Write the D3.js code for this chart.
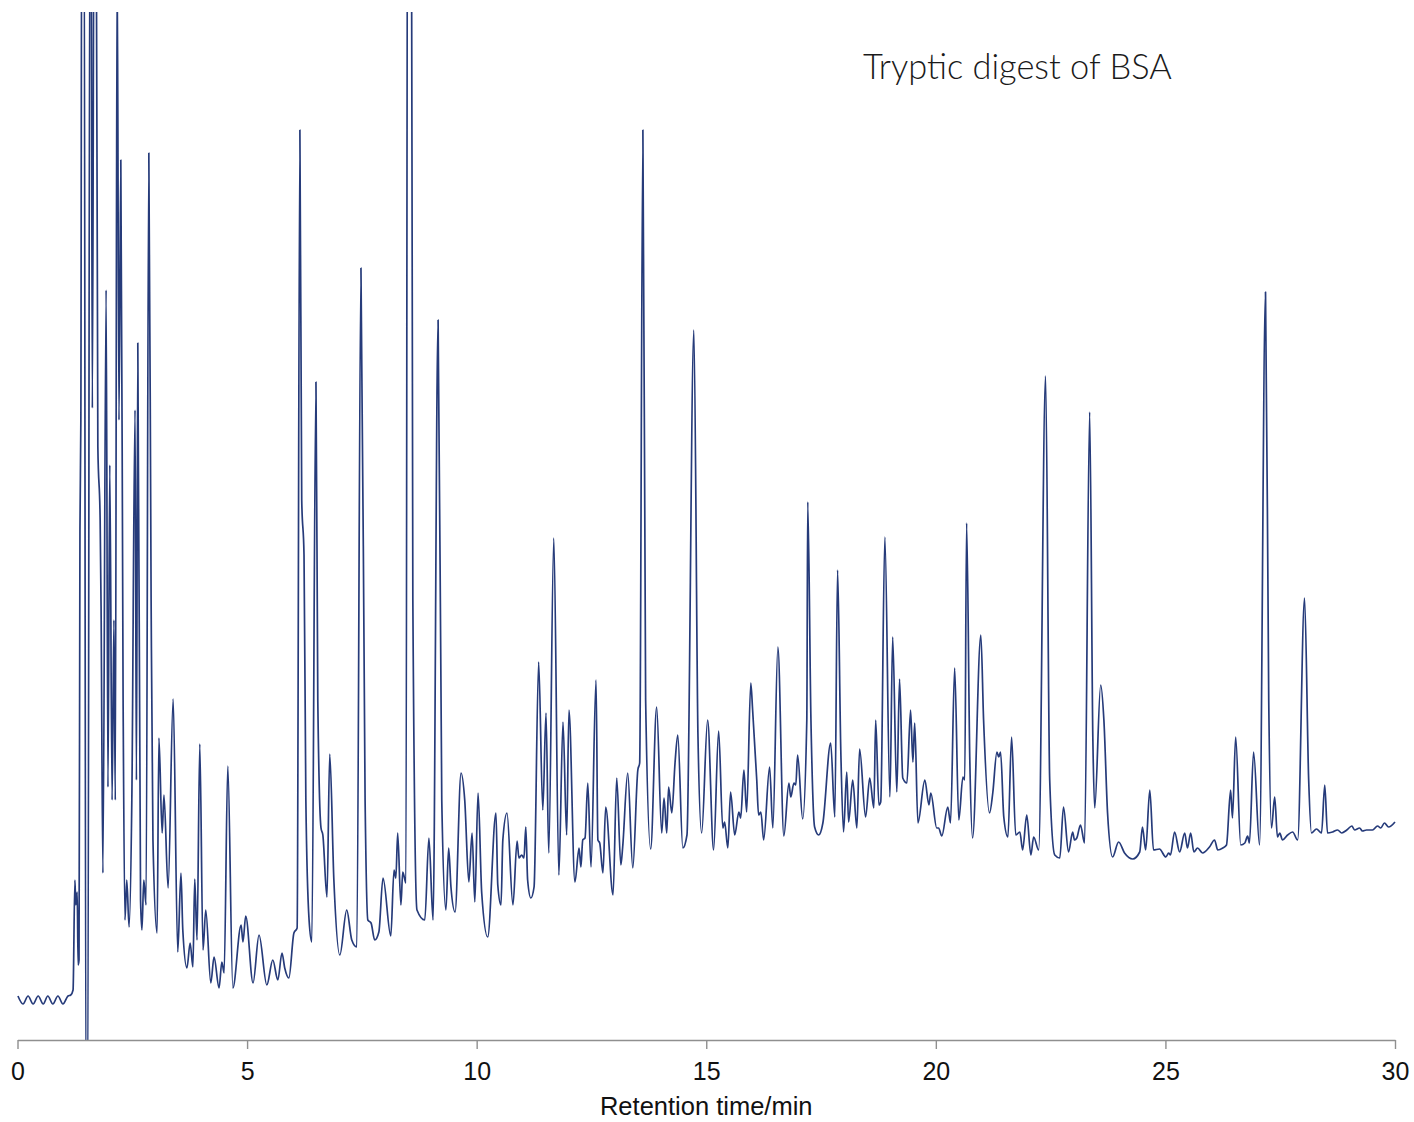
<!DOCTYPE html>
<html>
<head>
<meta charset="utf-8">
<script src="https://cdn.jsdelivr.net/npm/d3@7"></script>
<style>
  body { margin: 0; background: #fff; }
  svg { display: block; }
</style>
</head>
<body>
<svg id="chart" width="1414" height="1122"></svg>
<script>
// chart text
var chartTitle = "Tryptic digest of BSA";
var xLabel = "Retention time/min";
var xTicks = [0, 5, 10, 15, 20, 25, 30];

// detector trace: [retention time (min), signal (a.u.)]
var trace = [
  [0.01,4.4],[0.12,3.6],[0.23,4.4],[0.34,3.6],[0.45,4.4],[0.56,3.6],[0.66,4.4],[0.77,3.6],[0.88,4.4],[0.99,3.6],
  [1.10,4.4],[1.16,4.5],[1.21,5.0],[1.25,16.0],[1.27,13.5],[1.30,14.8],[1.32,7.5],[1.34,8.0],[1.36,51.0],[1.38,62.0],
  [1.40,119],[1.45,119],[1.49,-6],[1.53,-6],[1.58,119],[1.60,119],[1.63,63.2],[1.67,119],[1.71,119],[1.75,59.3],
  [1.80,52.0],[1.82,43.4],[1.86,16.7],[1.93,75.0],[1.97,25.3],[2.01,57.5],[2.06,24.0],[2.10,42.0],[2.13,24.0],[2.17,109],
  [2.21,62.0],[2.25,88.0],[2.30,34.0],[2.34,12.0],[2.38,16.0],[2.43,11.3],[2.49,24.0],[2.56,63.0],[2.59,26.0],[2.62,69.7],
  [2.68,14.0],[2.71,11.0],[2.75,16.0],[2.80,13.5],[2.86,88.7],[2.91,44.0],[2.95,20.0],
  [3.04,10.7],[3.08,30.2],[3.15,20.7],[3.19,24.5],[3.28,15.2],[3.39,34.1],[3.49,8.8],[3.56,16.7],[3.60,11.0],[3.69,7.2],
  [3.76,9.7],[3.82,7.3],[3.86,16.1],[3.91,10.0],[3.97,29.6],
  [4.04,9.0],[4.10,13.0],[4.21,5.7],[4.28,8.3],[4.39,5.2],[4.45,7.8],[4.50,6.7],[4.58,27.4],[4.69,5.2],[4.87,11.5],
  [4.91,9.8],[4.97,12.4],
  [5.13,5.7],[5.26,10.5],[5.43,5.5],[5.56,8.0],[5.67,6.0],[5.76,8.7],[5.82,7.2],[5.91,6.2],
  [6.02,10.7],[6.09,11.2],[6.15,91.0],[6.19,54.0],[6.24,48.5],[6.28,24.0],[6.35,12.0],[6.41,9.8],[6.50,65.8],[6.54,34.0],
  [6.61,21.2],[6.65,20.5],[6.74,14.3],[6.80,28.6],[6.89,16.0],
  [7.02,8.5],[7.17,13.0],[7.28,10.0],[7.39,9.3],[7.48,77.2],[7.57,24.0],[7.63,12.0],[7.70,11.7],[7.78,10.0],[7.87,10.8],
  [7.96,16.2],
  [8.13,10.4],[8.20,17.0],[8.24,16.2],[8.28,20.7],[8.35,13.5],[8.39,16.8],[8.46,15.7],[8.50,134],[8.57,134],[8.61,44.0],
  [8.70,13.0],[8.87,12.0],[8.96,20.2],
  [9.05,12.0],[9.16,72.0],[9.24,24.0],[9.33,13.0],[9.39,19.2],[9.44,15.3],[9.53,12.8],[9.66,26.7],[9.74,24.0],[9.83,15.8],
  [9.90,20.7],[9.96,13.8],
  [10.03,24.7],[10.11,14.7],[10.24,10.3],[10.42,22.7],[10.46,15.5],[10.53,13.5],[10.57,20.0],[10.66,22.7],[10.79,13.5],[10.88,19.9],
  [10.92,18.2],[10.98,18.5],
  [11.03,18.2],[11.07,21.3],[11.11,16.0],[11.18,14.2],[11.25,15.3],[11.35,37.8],[11.44,23.0],[11.51,32.7],[11.57,18.7],[11.68,50.2],
  [11.79,16.5],[11.88,31.8],[11.96,20.5],
  [12.01,33.0],[12.14,15.8],[12.23,19.2],[12.27,17.3],[12.31,20.0],[12.36,20.2],[12.42,25.7],[12.49,17.3],[12.60,36.0],[12.64,20.0],
  [12.68,19.7],[12.75,16.7],[12.81,23.3],[12.97,14.5],
  [13.05,26.2],[13.14,17.5],[13.18,19.3],[13.29,26.7],[13.40,17.2],[13.51,27.0],[13.55,27.7],[13.62,91.0],[13.68,34.0],[13.79,19.1],
  [13.92,33.3],
  [14.03,20.7],[14.08,24.2],[14.14,20.7],[14.18,25.3],[14.25,22.7],[14.32,27.7],[14.38,30.5],[14.49,19.2],[14.58,20.5],[14.73,71.0],
  [14.82,30.3],[14.90,20.7],
  [15.03,32.0],[15.16,19.0],[15.27,30.9],[15.36,21.2],[15.40,21.8],[15.47,19.2],[15.53,24.8],[15.62,20.5],[15.71,22.8],[15.75,22.2],
  [15.82,27.0],[15.88,22.8],[15.97,35.7],
  [16.01,33.0],[16.10,26.0],[16.14,22.5],[16.19,22.8],[16.25,20.0],[16.38,27.3],[16.45,21.2],[16.56,39.3],[16.69,20.4],[16.80,25.7],
  [16.84,24.3],[16.91,25.7],[16.95,25.5],[16.99,28.5],
  [17.10,22.1],[17.19,32.0],[17.21,53.8],[17.28,32.0],[17.36,21.3],[17.45,20.5],[17.54,21.7],[17.71,29.7],[17.80,22.3],[17.86,47.0],
  [17.93,29.0],[17.99,20.8],
  [18.06,26.8],[18.10,21.8],[18.19,26.0],[18.28,21.2],[18.34,29.1],[18.47,22.3],[18.56,26.2],[18.65,23.2],[18.69,32.0],[18.76,23.5],
  [18.80,23.8],[18.89,50.3],
  [19.00,24.3],[19.06,40.3],[19.15,24.8],[19.21,36.1],[19.28,26.2],[19.37,25.7],[19.45,33.0],[19.50,27.8],[19.54,31.7],[19.61,21.7],
  [19.76,26.0],[19.85,23.5],[19.89,24.7],
  [20.02,21.2],[20.06,21.2],[20.13,20.4],[20.26,23.3],[20.32,21.7],[20.41,37.2],[20.50,22.0],[20.59,26.3],[20.63,26.0],[20.67,51.7],
  [20.74,28.0],[20.80,20.2],[20.98,40.5],
  [21.04,32.0],[21.17,22.7],[21.24,24.7],[21.33,28.8],[21.37,28.3],[21.41,28.8],[21.48,22.3],[21.57,20.3],[21.65,30.3],[21.74,20.5],
  [21.83,20.8],[21.89,19.0],[21.98,22.5],
  [22.07,18.5],[22.13,20.3],[22.24,19.0],[22.39,66.4],[22.48,26.0],[22.59,18.5],[22.70,18.2],[22.78,23.3],[22.89,18.8],[22.98,20.8],
  [23.02,20.0],[23.07,20.2],[23.15,21.5],[23.24,19.7],[23.35,62.8],[23.42,30.0],[23.46,23.2],[23.59,35.5],[23.66,32.0],[23.74,22.7],
  [23.85,18.3],[23.98,19.8],
  [24.11,18.7],[24.29,18.1],[24.44,18.8],[24.50,21.3],[24.57,19.0],[24.66,25.0],[24.74,19.0],[24.87,19.1],
  [25.01,18.3],[25.07,18.7],[25.11,18.5],[25.20,20.8],[25.31,18.8],[25.42,20.7],[25.48,19.2],[25.55,20.7],[25.62,18.8],[25.70,19.2],
  [25.81,18.7],[25.96,19.3],
  [26.07,20.0],[26.14,19.0],[26.25,19.2],[26.33,19.5],[26.42,25.0],[26.46,22.2],[26.53,30.3],[26.64,19.5],[26.73,19.7],[26.79,20.4],
  [26.83,19.7],[26.92,28.8],
  [27.05,19.5],[27.18,74.8],[27.25,34.0],[27.31,21.2],[27.38,24.3],[27.44,20.3],[27.49,20.7],[27.55,20.0],[27.66,20.5],[27.77,20.8],
  [27.88,20.0],
  [28.03,44.2],[28.12,26.0],[28.18,20.7],[28.29,21.1],[28.40,20.7],[28.47,25.5],[28.53,20.7],[28.64,20.8],[28.75,21.0],[28.84,20.7],
  [28.95,21.0],
  [29.06,21.4],[29.12,21.0],[29.23,21.2],[29.29,20.9],[29.38,21.0],[29.51,21.0],[29.62,21.4],[29.69,21.2],[29.77,21.7],[29.86,21.3],
  [30.00,21.8]
];

var svg = d3.select("#chart");
var plotLeft = 17.5, plotRight = 1395, plotTop = 12, plotBottom = 1040;

var x = d3.scaleLinear().domain([0, 30]).range([plotLeft, plotRight]);
var y = d3.scaleLinear().domain([0, 102.8]).range([plotBottom, plotTop]);

// peaks run off the top and one dips under the axis, so clip to the plot box
svg.append("defs").append("clipPath").attr("id", "plot-clip")
  .append("rect")
  .attr("x", 0).attr("y", plotTop)
  .attr("width", 1414).attr("height", plotBottom - plotTop);

var line = d3.line()
  .x(function(d) { return x(d[0]); })
  .y(function(d) { return y(d[1]); })
  .curve(d3.curveMonotoneX);

svg.append("path")
  .datum(trace)
  .attr("clip-path", "url(#plot-clip)")
  .attr("fill", "none")
  .attr("stroke", "#263b7a")
  .attr("stroke-width", 1.7)
  .attr("stroke-linejoin", "round")
  .attr("d", line);

// x axis
var xAxis = d3.axisBottom(x)
  .tickValues(xTicks)
  .tickFormat(d3.format("d"))
  .tickSizeInner(9)
  .tickSizeOuter(0)
  .tickPadding(13);

var gx = svg.append("g")
  .attr("transform", "translate(0," + plotBottom + ")")
  .call(xAxis);

gx.select(".domain").attr("stroke", "#8f8f8f").attr("stroke-width", 1.4);
gx.selectAll(".tick line").attr("stroke", "#8f8f8f").attr("stroke-width", 1.4);
gx.selectAll(".tick text")
  .attr("fill", "#111")
  .style("font-family", "'Liberation Sans', Arial, sans-serif")
  .style("font-size", "25px");

svg.append("text")
  .attr("x", (plotLeft + plotRight) / 2)
  .attr("y", 1115)
  .attr("text-anchor", "middle")
  .attr("fill", "#111")
  .style("font-family", "'Liberation Sans', Arial, sans-serif")
  .style("font-size", "25.5px")
  .text(xLabel);

// title, sized to the width it takes in the picture
var title = svg.append("text")
  .attr("x", 863)
  .attr("y", 79)
  .attr("fill", "#1a1a1a")
  .style("font-family", "Lato, 'Open Sans', sans-serif")
  .style("font-weight", 300)
  .style("font-size", "28px")
  .text(chartTitle);

var tw = title.node().getComputedTextLength();
if (tw > 0) {
  title.style("font-size", (28 * 309 / tw).toFixed(1) + "px");
}
</script>
</body>
</html>
